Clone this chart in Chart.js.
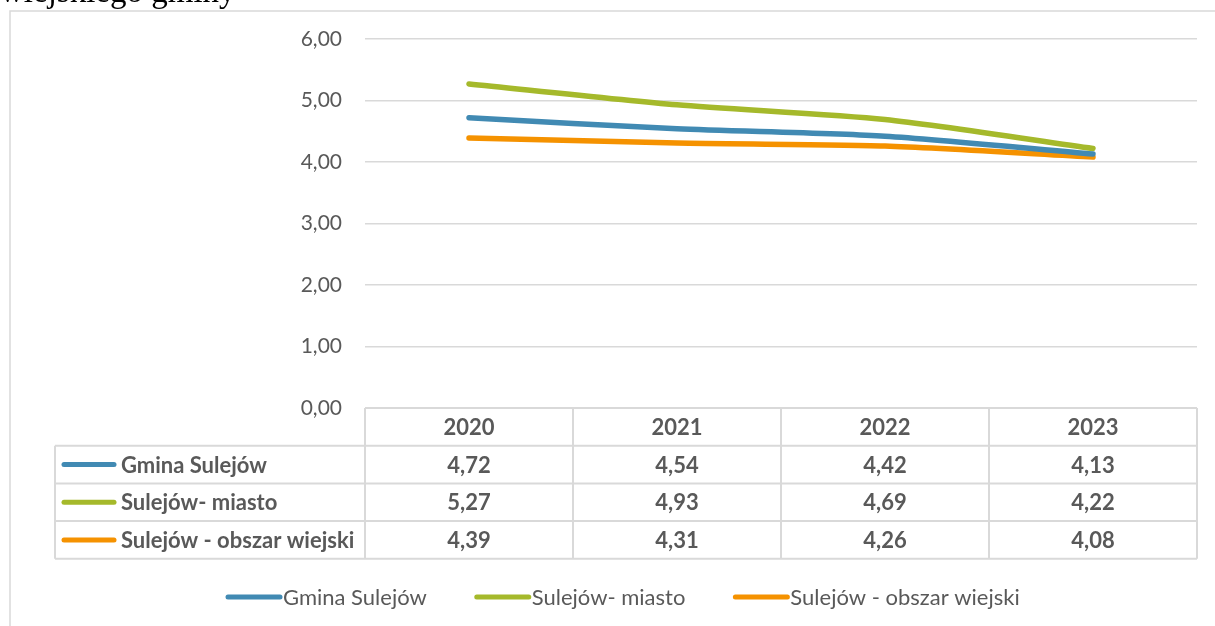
<!DOCTYPE html>
<html lang="pl">
<head>
<meta charset="UTF-8">
<title>Sulejów</title>
<script src="https://cdn.jsdelivr.net/npm/chart.js"></script>
<style>
  html, body { margin: 0; padding: 0; background: #fff; overflow: hidden; }
  #wrap { position: relative; width: 1215px; height: 626px; }
</style>
</head>
<body>
<div id="wrap"><canvas id="chart" width="1215" height="626"></canvas></div>
<script>
// data
const years = ["2020", "2021", "2022", "2023"];
const gminaSulejow = [4.72, 4.54, 4.42, 4.13];
const sulejowMiasto = [5.27, 4.93, 4.69, 4.22];
const sulejowObszarWiejski = [4.39, 4.31, 4.26, 4.08];
const seriesNames = ["Gmina Sulejów", "Sulejów- miasto", "Sulejów - obszar wiejski"];
const seriesColors = ["#418AB3", "#A5B92B", "#F59200"];
const captionTail = "wiejskiego gminy";

const fmt = v => v.toFixed(2).replace(".", ",");
const textGrey = "#595959";
const lineGrey = "#d9d9d9";

// frame, cut caption, data table and legend
const extrasPlugin = {
    id: "extras",
    beforeDraw(chart) {
        const ctx = chart.ctx;
        ctx.save();
        ctx.fillStyle = "#000";
        ctx.font = "33px 'Liberation Serif', serif";
        ctx.textBaseline = "alphabetic";
        ctx.textAlign = "left";
        ctx.fillText(captionTail, 0, 2);
        ctx.strokeStyle = lineGrey;
        ctx.lineWidth = 1.5;
        ctx.strokeRect(10, 11, 1300, 700);
        ctx.restore();
    },
    afterDraw(chart) {
        const ctx = chart.ctx;
        const xs = chart.scales.x, ys = chart.scales.y;
        const area = chart.chartArea;
        const top = ys.getPixelForValue(0);
        const rowH = 37.7;
        const colW = (area.right - area.left) / years.length;
        const labelLeft = 55;
        const datasets = chart.data.datasets;

        ctx.save();
        ctx.strokeStyle = lineGrey;
        ctx.lineWidth = 2;
        ctx.beginPath();
        ctx.moveTo(area.left, top);
        ctx.lineTo(area.right, top);
        for (let r = 1; r <= datasets.length + 1; r++) {
            ctx.moveTo(labelLeft, top + r * rowH);
            ctx.lineTo(area.right, top + r * rowH);
        }
        ctx.moveTo(labelLeft, top + rowH);
        ctx.lineTo(labelLeft, top + (datasets.length + 1) * rowH);
        for (let i = 0; i <= years.length; i++) {
            const xb = area.left + i * colW;
            ctx.moveTo(xb, top);
            ctx.lineTo(xb, top + (datasets.length + 1) * rowH);
        }
        ctx.stroke();

        ctx.fillStyle = textGrey;
        ctx.font = "bold 22px Lato, sans-serif";
        ctx.textBaseline = "middle";
        ctx.textAlign = "center";
        years.forEach((yr, i) => {
            ctx.fillText(yr, xs.getPixelForValue(i), top + rowH / 2 + 1);
        });
        datasets.forEach((ds, r) => {
            const cy = top + (r + 1.5) * rowH;
            ctx.textAlign = "center";
            ds.data.forEach((v, i) => {
                ctx.fillText(fmt(v), xs.getPixelForValue(i), cy + 1);
            });
            ctx.strokeStyle = ds.borderColor;
            ctx.lineWidth = 5;
            ctx.lineCap = "round";
            ctx.beginPath();
            ctx.moveTo(labelLeft + 9, cy);
            ctx.lineTo(labelLeft + 59, cy);
            ctx.stroke();
            ctx.textAlign = "left";
            ctx.fillText(ds.label, labelLeft + 66, cy + 1);
        });

        // legend
        ctx.font = "22px Lato, sans-serif";
        let lx = 226;
        const ly = 597;
        datasets.forEach(ds => {
            ctx.strokeStyle = ds.borderColor;
            ctx.lineWidth = 5;
            ctx.lineCap = "round";
            ctx.beginPath();
            ctx.moveTo(lx + 2, ly);
            ctx.lineTo(lx + 54, ly);
            ctx.stroke();
            ctx.fillStyle = textGrey;
            ctx.textAlign = "left";
            ctx.fillText(ds.label, lx + 57, ly + 1);
            lx += 57 + ctx.measureText(ds.label).width + 48;
        });
        ctx.restore();
    }
};

const makeSet = (i, values) => ({
    label: seriesNames[i],
    data: values,
    borderColor: seriesColors[i],
    backgroundColor: seriesColors[i],
    borderWidth: 5.5,
    borderCapStyle: "round",
    pointRadius: 0,
    tension: 0.25,
    fill: false
});

new Chart(document.getElementById("chart").getContext("2d"), {
    type: "line",
    data: {
        labels: years,
        datasets: [
            makeSet(0, gminaSulejow),
            makeSet(1, sulejowMiasto),
            makeSet(2, sulejowObszarWiejski)
        ]
    },
    options: {
        responsive: false,
        animation: false,
        layout: { padding: { left: 0, top: 39, right: 18, bottom: 218 } },
        scales: {
            x: { display: false, offset: true },
            y: {
                min: 0,
                max: 6,
                afterFit: s => { s.width = 365; },
                border: { display: false },
                grid: { color: lineGrey, lineWidth: 1.5, drawTicks: false },
                ticks: {
                    stepSize: 1,
                    padding: 23,
                    color: textGrey,
                    font: { family: "Lato, sans-serif", size: 21 },
                    callback: v => fmt(v)
                }
            }
        },
        plugins: {
            legend: { display: false },
            tooltip: { enabled: false }
        }
    },
    plugins: [extrasPlugin]
});
</script>
</body>
</html>
